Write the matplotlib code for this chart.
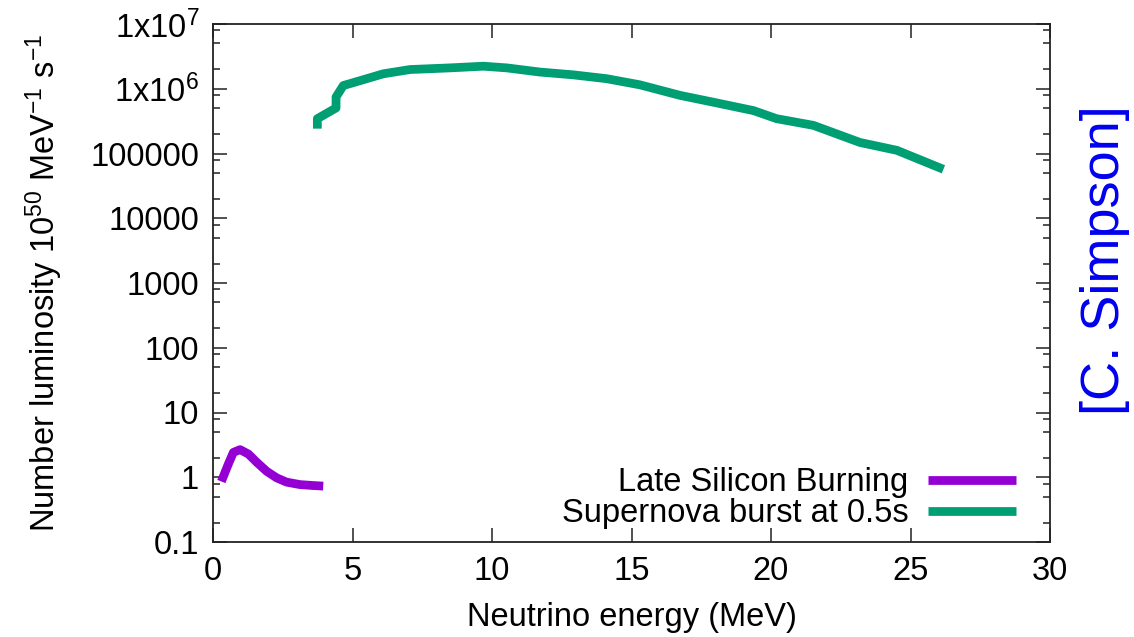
import numpy as np
import matplotlib.pyplot as plt
from matplotlib.ticker import FixedLocator, NullFormatter

plt.rcParams['font.family'] = ['Liberation Sans', 'DejaVu Sans']
plt.rcParams['mathtext.fontset'] = 'custom'
plt.rcParams['mathtext.rm'] = 'Liberation Sans'
plt.rcParams['mathtext.it'] = 'Liberation Sans'

# --- data ---
si_E = [0.30, 0.55, 0.73, 0.97, 1.27, 1.57, 1.92, 2.28, 2.64, 3.12, 3.59, 3.95]
si_L = [0.86, 1.60, 2.42, 2.67, 2.28, 1.70, 1.24, 0.98, 0.84, 0.77, 0.745, 0.73]

sn_E = [3.74, 3.74, 4.41, 4.41, 4.67, 5.51, 6.10, 7.06, 8.49, 9.69, 10.53, 11.72,
        12.91, 14.11, 15.30, 16.74, 17.93, 19.37, 20.20, 21.52, 23.19, 24.51, 26.18]
sn_L = [2.42e5, 3.45e5, 5.05e5, 7.45e5, 1.12e6, 1.43e6, 1.70e6, 1.98e6, 2.10e6,
        2.23e6, 2.10e6, 1.81e6, 1.64e6, 1.43e6, 1.15e6, 7.9e5, 6.2e5, 4.6e5,
        3.45e5, 2.72e5, 1.48e5, 1.12e5, 5.7e4]

ytick_vals = [0.1, 1, 10, 100, 1000, 1e4, 1e5, 1e6, 1e7]
ytick_labels = ['0.1', '1', '10', '100', '1000', '10000', '100000',
                '1x10$^{6}$', '1x10$^{7}$']
xtick_vals = [0, 5, 10, 15, 20, 25, 30]

fs = 23.5
fig = plt.figure(figsize=(11.34, 6.37), dpi=100)
ax = fig.add_axes([213/1134, 1-542/637, (1050-213)/1134, (542-24)/637])

ax.plot(si_E, si_L, color='#9400d3', lw=6.3, solid_capstyle='butt',
        solid_joinstyle='round', label='Late Silicon Burning')
ax.plot(sn_E, sn_L, color='#009e73', lw=6.3, solid_capstyle='butt',
        solid_joinstyle='round', label='Supernova burst at 0.5s')

ax.set_yscale('log')
ax.set_xlim(0, 30)
ax.set_ylim(0.1, 1e7)
ax.yaxis.set_major_locator(FixedLocator(ytick_vals))
ax.set_yticklabels(ytick_labels)
minors = [m*10.0**k for k in range(-1, 7) for m in (2, 5, 8)]
ax.yaxis.set_minor_locator(FixedLocator(minors))
ax.yaxis.set_minor_formatter(NullFormatter())
ax.set_xticks(xtick_vals)

ax.tick_params(which='both', direction='in', top=True, right=True,
               labelsize=fs, width=1.1, color='#222222')
ax.tick_params(which='major', length=10, pad=10)
ax.tick_params(which='minor', length=5)
for sp in ax.spines.values():
    sp.set_linewidth(1.3)
    sp.set_color('#222222')

ax.set_xlabel('Neutrino energy (MeV)', fontsize=fs, labelpad=11)
ax.set_ylabel('Number luminosity 10$^{50}$ MeV$^{-1}$ s$^{-1}$', fontsize=fs,
              labelpad=18)

leg = ax.legend(loc='lower right', frameon=False, fontsize=fs, markerfirst=False,
                handlelength=2.7, handletextpad=0.6, labelspacing=0.0,
                borderaxespad=0.0, bbox_to_anchor=(0.975, 0.0))

fig.text(1105/1134, 1-260/637, '[C. Simpson]', rotation=90, color='#0000ee',
         fontsize=39, ha='center', va='center')

plt.savefig('out.png', dpi=100)
